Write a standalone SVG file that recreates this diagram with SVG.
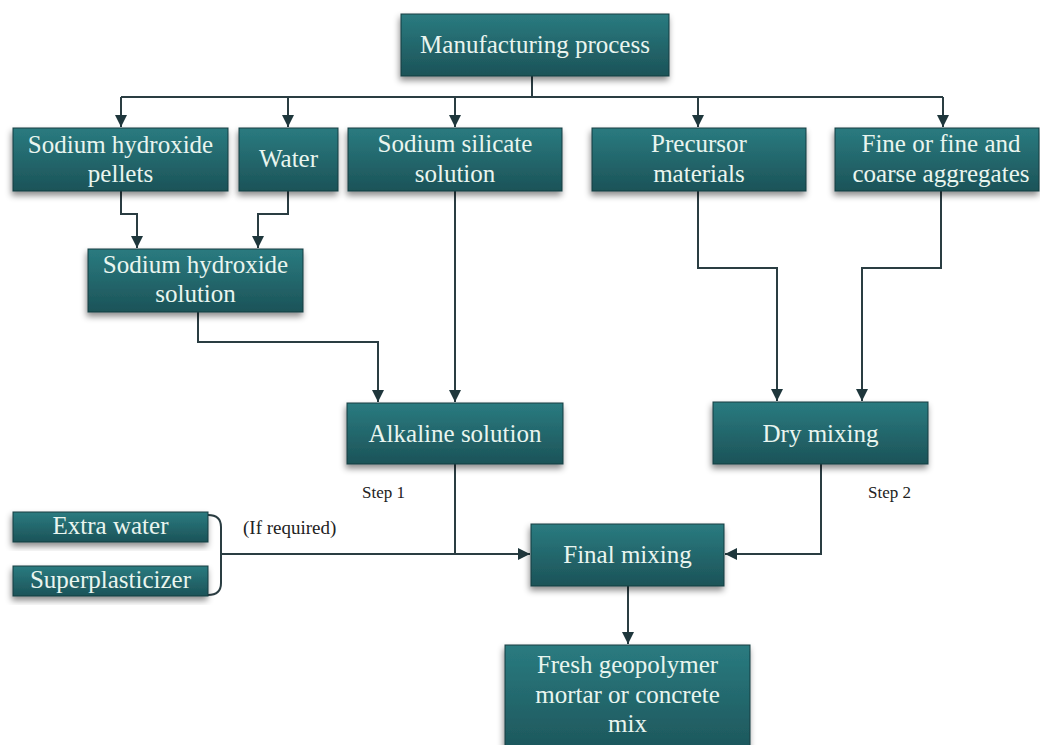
<svg xmlns="http://www.w3.org/2000/svg" width="1040" height="745" viewBox="0 0 1040 745">
<defs>
<linearGradient id="boxg" x1="0" y1="0" x2="0" y2="1">
<stop offset="0" stop-color="#2a7b80"/>
<stop offset="1" stop-color="#1c5358"/>
</linearGradient>
<filter id="sh" x="-10%" y="-20%" width="120%" height="150%">
<feDropShadow dx="-1" dy="4" stdDeviation="3" flood-color="#000" flood-opacity="0.45"/>
</filter>
<marker id="arr" markerUnits="userSpaceOnUse" markerWidth="14" markerHeight="14" refX="12" refY="6" orient="auto">
<path d="M0,0 L12,6 L0,12 z" fill="#1f373c"/>
</marker>
<style>
.box{fill:url(#boxg);stroke:#163c40;stroke-width:1;filter:url(#sh)}
.t{font-family:"Liberation Serif","Times New Roman",serif;font-size:25px;fill:#e9f5ef;text-anchor:middle}
.s{font-family:"Liberation Serif","Times New Roman",serif;font-size:17px;fill:#222}
.c{fill:none;stroke:#2a3d42;stroke-width:2}
</style>
</defs>
<rect width="1040" height="745" fill="#ffffff"/>

<g id="connectors">
<path class="c" d="M532,76 V97"/>
<path class="c" d="M121,97 H943"/>
<path class="c" d="M121,97 V127" marker-end="url(#arr)"/>
<path class="c" d="M288,97 V127" marker-end="url(#arr)"/>
<path class="c" d="M455,97 V127" marker-end="url(#arr)"/>
<path class="c" d="M698,97 V127" marker-end="url(#arr)"/>
<path class="c" d="M943,97 V127" marker-end="url(#arr)"/>
<path class="c" d="M121,191 V214 H137 V248" marker-end="url(#arr)"/>
<path class="c" d="M288,191 V214 H258 V248" marker-end="url(#arr)"/>
<path class="c" d="M198,312 V342 H378 V402" marker-end="url(#arr)"/>
<path class="c" d="M455,191 V402" marker-end="url(#arr)"/>
<path class="c" d="M698,191 V268 H777 V401" marker-end="url(#arr)"/>
<path class="c" d="M941,191 V268 H862 V401" marker-end="url(#arr)"/>
<path class="c" d="M455,464 V554"/>
<path class="c" d="M221,554 H530" marker-end="url(#arr)"/>
<path class="c" d="M821,464 V554 H725" marker-end="url(#arr)"/>
<path class="c" d="M628,586 V644" marker-end="url(#arr)"/>
<path class="c" d="M208,515 Q221,515 221,527 V583 Q221,595 208,595"/>
</g>

<g id="n-manufacturing">
<rect class="box" x="401" y="14" width="268" height="62"/>
<text class="t" x="535" y="53">Manufacturing process</text>
</g>
<g id="n-naoh-pellets">
<rect class="box" x="13" y="128" width="215" height="63"/>
<text class="t" x="120.5" y="153">Sodium hydroxide</text>
<text class="t" x="120.5" y="182">pellets</text>
</g>
<g id="n-water">
<rect class="box" x="239" y="128" width="99" height="63"/>
<text class="t" x="288.5" y="167">Water</text>
</g>
<g id="n-silicate">
<rect class="box" x="348" y="128" width="214" height="63"/>
<text class="t" x="455" y="152">Sodium silicate</text>
<text class="t" x="455" y="182">solution</text>
</g>
<g id="n-precursor">
<rect class="box" x="592" y="128" width="214" height="63"/>
<text class="t" x="699" y="152">Precursor</text>
<text class="t" x="699" y="182">materials</text>
</g>
<g id="n-aggregates">
<rect class="box" x="835" y="128" width="204" height="63"/>
<text class="t" x="941" y="152">Fine or fine and</text>
<text class="t" x="941" y="182">coarse aggregates</text>
</g>
<g id="n-naoh-solution">
<rect class="box" x="88" y="249" width="215" height="63"/>
<text class="t" x="195.5" y="273">Sodium hydroxide</text>
<text class="t" x="195.5" y="302">solution</text>
</g>
<g id="n-alkaline">
<rect class="box" x="347" y="403" width="216" height="61"/>
<text class="t" x="455" y="442">Alkaline solution</text>
</g>
<g id="n-dry">
<rect class="box" x="713" y="402" width="215" height="62"/>
<text class="t" x="820.5" y="442">Dry mixing</text>
</g>
<g id="n-extra-water">
<rect class="box" x="13" y="512" width="195" height="30"/>
<text class="t" x="110.5" y="534">Extra water</text>
</g>
<g id="n-superplasticizer">
<rect class="box" x="13" y="566" width="195" height="30"/>
<text class="t" x="110.5" y="588">Superplasticizer</text>
</g>
<g id="n-final">
<rect class="box" x="531" y="524" width="193" height="62"/>
<text class="t" x="627.5" y="563">Final mixing</text>
</g>
<g id="n-fresh">
<rect class="box" x="505" y="645" width="245" height="115"/>
<text class="t" x="627.5" y="673">Fresh geopolymer</text>
<text class="t" x="627.5" y="703">mortar or concrete</text>
<text class="t" x="627.5" y="732">mix</text>
</g>

<g id="labels">
<text class="s" x="362" y="498">Step 1</text>
<text class="s" x="868" y="498">Step 2</text>
<text class="s" x="243" y="534" style="font-size:19px">(If required)</text>
</g>
</svg>
